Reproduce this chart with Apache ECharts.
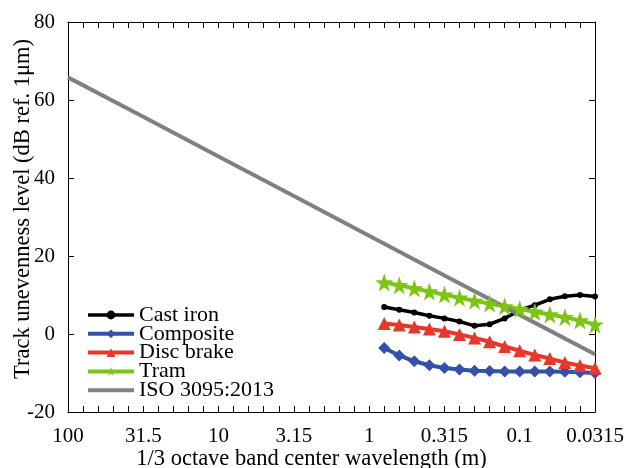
<!DOCTYPE html>
<html>
<head>
<meta charset="utf-8">
<script src="https://cdn.jsdelivr.net/npm/echarts@6/dist/echarts.min.js"></script>
<style>
  html, body { margin: 0; padding: 0; background: #fff; }
  #chart { width: 630px; height: 468px; }
</style>
</head>
<body>
<div id="chart"></div>
<script>
// tick labels of the 1/3 octave band axis (every 5th band)
const tickLabels = ["100", "31.5", "10", "3.15", "1", "0.315", "0.1", "0.0315"];

// measured band center wavelengths (m)
const wavelengths = [0.8, 0.63, 0.5, 0.4, 0.315, 0.25, 0.2, 0.16, 0.125, 0.1, 0.08, 0.063, 0.05, 0.04, 0.0315];

// levels, dB ref. 1 um
const castIron  = [6.9, 6.2, 5.5, 4.7, 4.0, 3.2, 2.1, 2.5, 4.0, 6.1, 7.4, 8.9, 9.7, 10.0, 9.6];
const composite = [-3.6, -5.5, -7.0, -8.0, -8.7, -9.1, -9.4, -9.5, -9.6, -9.6, -9.6, -9.6, -9.7, -9.8, -10.0];
const discBrake = [2.7, 2.3, 1.8, 1.3, 0.7, -0.1, -1.0, -2.0, -3.2, -4.3, -5.4, -6.3, -7.3, -8.1, -8.8];
const tram      = [13.2, 12.5, 11.7, 10.9, 10.1, 9.3, 8.5, 7.8, 7.1, 6.4, 5.7, 5.0, 4.3, 3.5, 2.4];

// ISO 3095:2013 limit
const isoWavelengths = [100, 31.5, 10, 3.15, 1, 0.315, 0.1, 0.0315];
const isoLimit = [65.8, 55.7, 45.5, 35.4, 25.2, 15.0, 4.9, -5.2];

// band index counted from 100 m
function band(w) {
  return Math.round(10 * Math.log10(100 / w));
}

function pairs(ws, vs) {
  return ws.map((w, i) => [band(w), vs[i]]);
}

const starPath = "path://M50,0 L62,35 L99,35 L69,57 L80,92 L50,71 L20,92 L31,57 L1,35 L38,35 Z";
const font = "Liberation Serif";

let myChart = echarts.init(document.getElementById("chart"));

const xCommon = {
  type: "value",
  min: 0,
  max: 35,
  interval: 5,
  axisLine: { show: true, onZero: false, lineStyle: { color: "#000", width: 1 } },
  axisTick: { show: true, inside: true, length: 6, lineStyle: { color: "#000" } },
  minorTick: { show: true, splitNumber: 5, length: 6, lineStyle: { color: "#000" } },
  splitLine: { show: false },
};

const yCommon = {
  type: "value",
  min: -20,
  max: 80,
  interval: 20,
  axisLine: { show: true, onZero: false, lineStyle: { color: "#000", width: 1 } },
  axisTick: { show: true, inside: true, length: 6, lineStyle: { color: "#000" } },
  splitLine: { show: false },
};

function lineSeries(name, data, color, symbol, size, width) {
  return {
    name: name,
    type: "line",
    data: data,
    symbol: symbol,
    symbolSize: size,
    showSymbol: symbol !== "none",
    lineStyle: { color: color, width: width },
    itemStyle: { color: color },
    animation: false,
  };
}

function legendItem(name, width) {
  return { name: name, lineStyle: { width: width } };
}

myChart.setOption({
  animation: false,
  grid: { left: 68, right: 35, top: 22, bottom: 56, outerBoundsMode: "none" },
  xAxis: [
    Object.assign({}, xCommon, {
      position: "bottom",
      name: "1/3 octave band center wavelength (m)",
      nameLocation: "middle",
      nameGap: 36,
      nameMoveOverlap: false,
      // the title sits a little left of the plot centre
      nameTextStyle: { fontFamily: font, fontSize: 22.5, color: "#000", padding: [0, 40, 0, 0] },
      axisLabel: {
        fontFamily: font,
        fontSize: 21,
        color: "#000",
        margin: 14,
        formatter: (v) => tickLabels[v / 5],
      },
    }),
    Object.assign({}, xCommon, {
      position: "top",
      axisLabel: { show: false },
    }),
  ],
  yAxis: [
    Object.assign({}, yCommon, {
      position: "left",
      name: "Track unevenness level (dB ref. 1μm)",
      nameLocation: "middle",
      nameGap: 33,
      nameMoveOverlap: false,
      nameTextStyle: { fontFamily: font, fontSize: 22.5, color: "#000", padding: [0, 0, 0, 16] },
      axisLabel: { fontFamily: font, fontSize: 21, color: "#000", margin: 13 },
    }),
    Object.assign({}, yCommon, {
      position: "right",
      axisLabel: { show: false },
    }),
  ],
  legend: {
    orient: "vertical",
    left: 86,
    top: 304,
    padding: 0,
    itemWidth: 46,
    itemHeight: 11,
    itemGap: -3.2,
    textStyle: { fontFamily: font, fontSize: 22, color: "#000" },
    data: [
      legendItem("Cast iron", 3.5),
      legendItem("Composite", 4),
      legendItem("Disc brake", 4),
      legendItem("Tram", 4),
      { name: "ISO 3095:2013", icon: "path://M0,0 H46 V4 H0 Z", itemStyle: { color: "#808080" } },
    ],
  },
  series: [
    lineSeries("Cast iron", pairs(wavelengths, castIron), "#000000", "circle", 6, 3.5),
    lineSeries("Composite", pairs(wavelengths, composite), "#3550a8", "diamond", 12, 4),
    lineSeries("Disc brake", pairs(wavelengths, discBrake), "#e5382b", "triangle", 13, 4),
    lineSeries("Tram", pairs(wavelengths, tram), "#7cc515", starPath, 18, 4),
    lineSeries("ISO 3095:2013", pairs(isoWavelengths, isoLimit), "#808080", "none", 0, 4),
  ],
});
</script>
</body>
</html>
